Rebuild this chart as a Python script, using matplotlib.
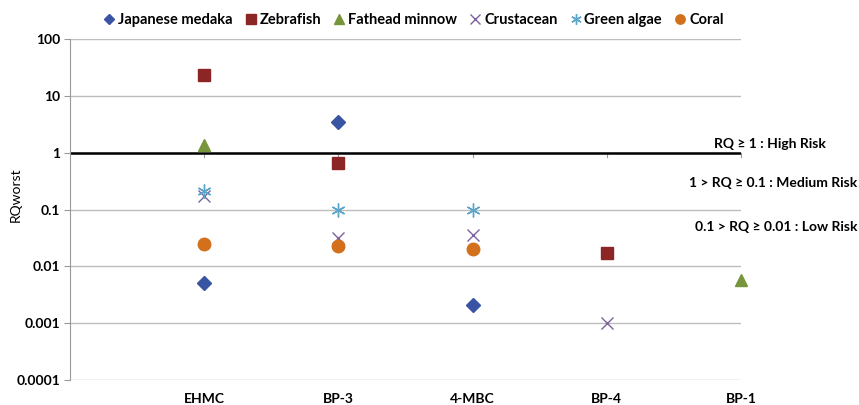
import numpy as np
import matplotlib.pyplot as plt
from matplotlib.ticker import FixedLocator, FixedFormatter, NullLocator

plt.rcParams['font.family'] = ['Lato', 'DejaVu Sans']

# 化合物与物种
compounds = ['EHMC', 'BP-3', '4-MBC', 'BP-4', 'BP-1']
medaka = [0.005, 3.4, 0.0021, None, None]
zebrafish = [23, 0.66, None, 0.017, None]
fathead = [1.38, None, None, None, 0.0057]
crustacean = [0.17, 0.032, 0.036, 0.001, None]
green_algae = [0.21, 0.1, 0.1, None, None]
coral = [0.025, 0.023, 0.02, None, None]

series = [
    ('Japanese medaka', medaka, 'D', '#3A54A4', 7),
    ('Zebrafish', zebrafish, 's', '#8C2525', 9),
    ('Fathead minnow', fathead, '^', '#77953A', 9),
    ('Crustacean', crustacean, 'x', '#7B62A0', 9),
    ('Green algae', green_algae, (6, 2, 0), '#5BA6C8', 10),
    ('Coral', coral, 'o', '#D2701C', 9),
]

fig = plt.figure(figsize=(8.59, 4.05), dpi=100)
ax = fig.add_axes([0.0815, 0.0617, 0.781, 0.842])

x = np.arange(1, len(compounds) + 1)
for name, vals, mk, col, ms in series:
    xs = [xi for xi, v in zip(x, vals) if v is not None]
    ys = [v for v in vals if v is not None]
    if mk in ('x', (6, 2, 0)):
        ax.plot(xs, ys, linestyle='none', marker=mk, markersize=ms,
                color=col, markeredgewidth=1.0, label=name, clip_on=False, zorder=4)
    else:
        ax.plot(xs, ys, linestyle='none', marker=mk, markersize=ms,
                color=col, markeredgecolor=col, label=name, clip_on=False, zorder=4)

ax.set_yscale('log')
ax.set_ylim(0.0001, 100)
ax.set_xlim(0, 5)

yt = [0.0001, 0.001, 0.01, 0.1, 1, 10, 100]
ax.yaxis.set_major_locator(FixedLocator(yt))
ax.yaxis.set_major_formatter(FixedFormatter(['0.0001', '0.001', '0.01', '0.1', '1', '10', '100']))
ax.yaxis.set_minor_locator(NullLocator())
ax.grid(axis='y', color='#bdbdbd', linewidth=1.0, zorder=0)
ax.set_axisbelow(True)

ax.set_xticks(x)
ax.set_xticklabels(compounds)
ax.tick_params(axis='x', length=0, pad=9)
ax.tick_params(axis='y', length=4, color='#999999', pad=3)
for lbl in ax.get_xticklabels() + ax.get_yticklabels():
    lbl.set_fontsize(10)
    lbl.set_fontweight('bold')

for s in ['top', 'right', 'bottom']:
    ax.spines[s].set_visible(False)
ax.spines['left'].set_color('#999999')

# RQ = 1 基准线
ax.axhline(1, color='black', linewidth=1.8, zorder=2)
for xi in x:
    ax.plot([xi, xi], [1, 0.85], color='#999999', linewidth=0.8, zorder=1, clip_on=False)

# y轴标题
fig.text(0.018, 0.52, 'RQworst', rotation=90, ha='center', va='center', fontsize=10)

fig.text(0.961, 0.645, 'RQ ≥ 1 : High Risk', ha='right', va='center', fontsize=10, fontweight='bold')
fig.text(0.998, 0.548, '1 > RQ ≥ 0.1 : Medium Risk', ha='right', va='center', fontsize=10, fontweight='bold')
fig.text(0.998, 0.44, '0.1 > RQ ≥ 0.01 : Low Risk', ha='right', va='center', fontsize=10, fontweight='bold')

leg = fig.legend(loc='upper left', bbox_to_anchor=(0.112, 0.983), ncol=6, frameon=False,
                 fontsize=10.5, handletextpad=0.1, columnspacing=0.75, markerscale=0.75,
                 handlelength=1.0, borderaxespad=0.0)
for t in leg.get_texts():
    t.set_fontweight('bold')

plt.savefig('out.png', dpi=100)
